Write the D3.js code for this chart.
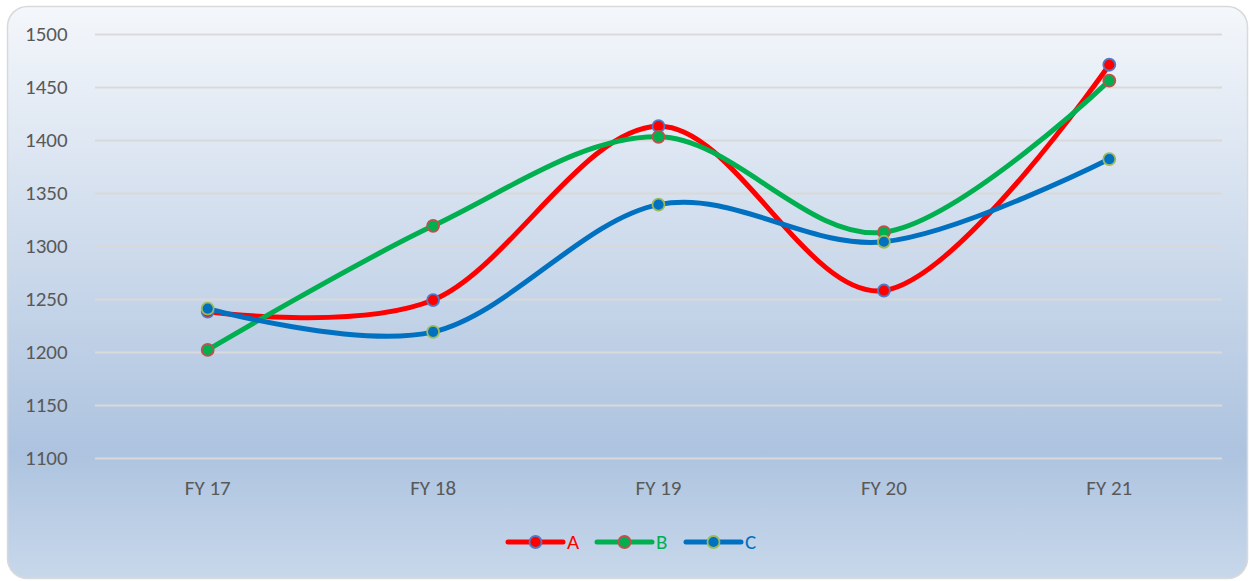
<!DOCTYPE html>
<html>
<head>
<meta charset="utf-8">
<script src="https://cdn.jsdelivr.net/npm/d3@7"></script>
<style>
  body { margin: 0; background: #ffffff; }
  text { font-family: Carlito, Calibri, Lato, "Open Sans", sans-serif; }
</style>
</head>
<body>
<svg id="chart" width="1250" height="581"></svg>
<script>
// chart values
var categories = ["FY 17", "FY 18", "FY 19", "FY 20", "FY 21"];
var seriesNames = ["A", "B", "C"];
var valuesA = [1238, 1249, 1413, 1258, 1471];
var valuesB = [1202, 1319, 1403, 1313, 1456];
var valuesC = [1241, 1219, 1339, 1304, 1382];
var yTicks = [1100, 1150, 1200, 1250, 1300, 1350, 1400, 1450, 1500];

var series = [
    {name: seriesNames[0], values: valuesA, color: "#ff0000", marker: "#4f7ac6"},
    {name: seriesNames[1], values: valuesB, color: "#00b050", marker: "#c0504d"},
    {name: seriesNames[2], values: valuesC, color: "#0070c0", marker: "#9bbb59"}
];

var svg = d3.select("#chart"),
    width = +svg.attr("width"),
    height = +svg.attr("height");

var defs = svg.append("defs");
var grad = defs.append("linearGradient") //background fill, light at top, steel blue lower down
    .attr("id", "bg")
    .attr("x1", 0).attr("y1", 0).attr("x2", 0).attr("y2", 1);
grad.append("stop").attr("offset", "0%").attr("stop-color", "#f4f7fb");
grad.append("stop").attr("offset", "78%").attr("stop-color", "#adc3df");
grad.append("stop").attr("offset", "100%").attr("stop-color", "#c8d8eb");

svg.append("rect") //chart area
    .attr("x", 7.5)
    .attr("y", 6.5)
    .attr("width", width - 10)
    .attr("height", height - 9)
    .attr("rx", 20)
    .attr("ry", 20)
    .style("fill", "url(#bg)")
    .style("stroke", "#d9d9d9")
    .style("stroke-width", 1.5);

var xScale = d3.scaleBand()
    .domain(categories)
    .range([95, 1222]);

var yScale = d3.scaleLinear()
    .domain([1100, 1500])
    .range([458, 34]);

var yAxis = d3.axisLeft(yScale) //gridlines with labels
    .tickValues(yTicks)
    .tickFormat(d3.format("d"))
    .tickSize(-(1222 - 95))
    .tickPadding(20);

var gY = svg.append("g")
    .attr("transform", "translate(95,0)")
    .call(yAxis);
gY.select(".domain").remove();
gY.selectAll(".tick line")
    .attr("stroke", "#d9d9d9")
    .attr("stroke-width", 2);
gY.selectAll(".tick text")
    .attr("fill", "#595959")
    .attr("font-size", "21px")
    .attr("x", -70)
    .style("text-anchor", "start");

var xAxis = d3.axisBottom(xScale)
    .tickSize(0)
    .tickPadding(22);

var gX = svg.append("g")
    .attr("transform", "translate(0,458)")
    .call(xAxis);
gX.select(".domain").remove();
gX.selectAll(".tick text")
    .attr("fill", "#595959")
    .attr("font-size", "21px");

var line = d3.line()
    .x(function (d, i) { return xScale(categories[i]) + xScale.bandwidth() / 2; })
    .y(function (d) { return yScale(d); })
    .curve(d3.curveCatmullRom.alpha(0));

series.forEach(function (s) {
    svg.append("path") //smoothed line
        .datum(s.values)
        .attr("d", line)
        .style("fill", "none")
        .style("stroke", s.color)
        .style("stroke-width", 5)
        .style("stroke-linecap", "round");
});

series.forEach(function (s) {
    svg.selectAll(".dot-" + s.name) //markers
        .data(s.values)
        .enter().append("circle")
        .attr("cx", function (d, i) { return xScale(categories[i]) + xScale.bandwidth() / 2; })
        .attr("cy", function (d) { return yScale(d); })
        .attr("r", 6)
        .style("fill", s.color)
        .style("stroke", s.marker)
        .style("stroke-width", 1.8);
});

// legend
var legendX = [508, 597, 686];
var legend = svg.selectAll(".legend")
    .data(series)
    .enter().append("g")
    .attr("class", "legend")
    .attr("transform", function (d, i) { return "translate(" + legendX[i] + ",542)"; });

legend.append("line")
    .attr("x1", 0)
    .attr("x2", 55)
    .style("stroke", function (d) { return d.color; })
    .style("stroke-width", 5)
    .style("stroke-linecap", "round");

legend.append("circle")
    .attr("cx", 27.5)
    .attr("r", 6)
    .style("fill", function (d) { return d.color; })
    .style("stroke", function (d) { return d.marker; })
    .style("stroke-width", 1.8);

legend.append("text")
    .attr("x", 59)
    .attr("dy", "0.35em")
    .attr("font-size", "21px")
    .attr("fill", function (d) { return d.color; })
    .text(function (d) { return d.name; });
</script>
</body>
</html>
